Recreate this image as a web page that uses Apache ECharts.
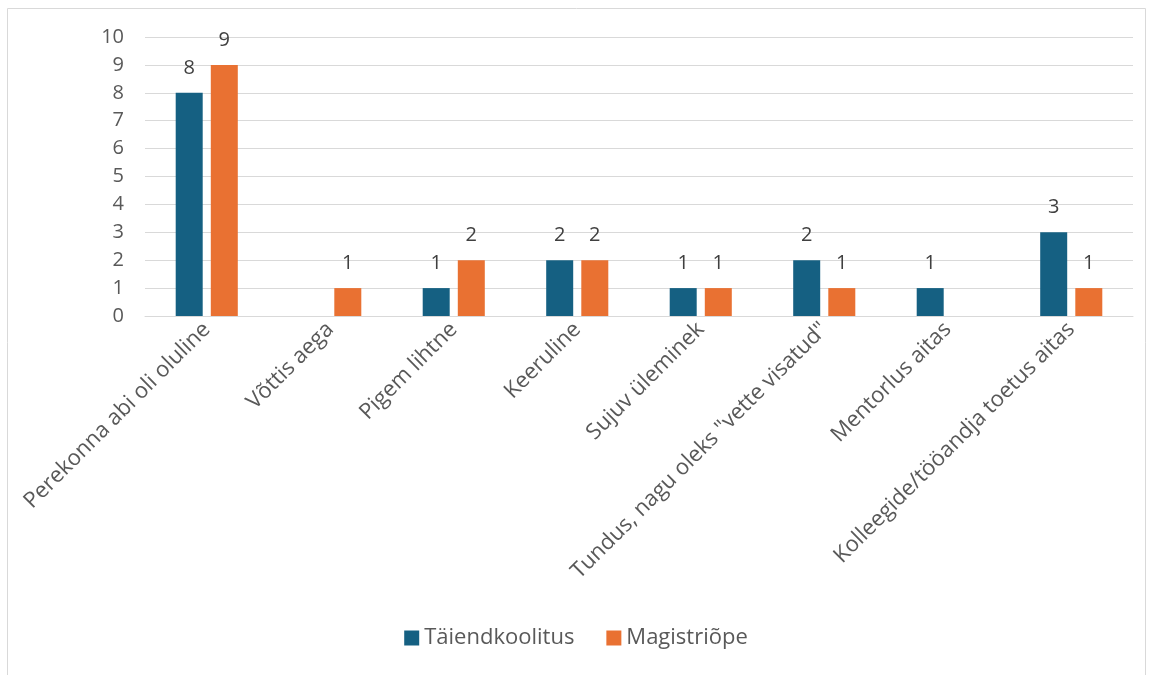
<!DOCTYPE html>
<html><head><meta charset="utf-8">
<script src="https://cdn.jsdelivr.net/npm/echarts@6/dist/echarts.min.js"></script>
<style>html,body{margin:0;padding:0;background:#fff}#c{width:1152px;height:675px}</style>
</head><body><div id="c"></div>
<script>
const categories = ["Perekonna abi oli oluline","Võttis aega","Pigem lihtne","Keeruline","Sujuv üleminek","Tundus, nagu oleks \"vette visatud\"","Mentorlus aitas","Kolleegide/tööandja toetus aitas"];
const seriesNames = ["Täiendkoolitus","Magistriõpe"];
const taiendkoolitus = [8, null, 1, 2, 1, 2, 1, 3];
const magistriope = [9, 1, 2, 2, 1, 1, null, 1];
const yTicks = [0,1,2,3,4,5,6,7,8,9,10];

const chart = echarts.init(document.getElementById('c'));
const font = '"Open Sans", "Noto Sans", sans-serif';
const lbl = {show:true, position:'top', color:'#404040', fontSize:20, fontFamily:font, distance:15};
chart.setOption({
  animation:false,
  graphic:[{type:'rect', shape:{x:7.5,y:8.5,width:1138,height:700}, style:{fill:'none', stroke:'#d9d9d9', lineWidth:1}}],
  grid:{left:145, right:19, top:37, bottom:359, containLabel:false},
  legend:{bottom:21, left:'center', itemWidth:15, itemHeight:15, itemGap:32, icon:'rect',
    textStyle:{color:'#595959', fontSize:22, fontFamily:font}, data:seriesNames},
  xAxis:{type:'category', data:categories,
    axisLine:{lineStyle:{color:'#d9d9d9'}}, axisTick:{show:false},
    axisLabel:{rotate:45, interval:0, color:'#595959', fontSize:22, fontFamily:font, margin:10}},
  yAxis:{type:'value', min:yTicks[0], max:yTicks[yTicks.length-1], interval:1,
    axisLine:{show:false}, axisTick:{show:false},
    axisLabel:{color:'#595959', fontSize:20, fontFamily:font, margin:21},
    splitLine:{lineStyle:{color:'#d9d9d9', width:1}}},
  series:[
    {name:seriesNames[0], type:'bar', data:taiendkoolitus, itemStyle:{color:'#156082'}, barWidth:27, barGap:'30%', label:lbl},
    {name:seriesNames[1], type:'bar', data:magistriope, itemStyle:{color:'#e97132'}, barWidth:27, label:lbl}
  ]
});
</script></body></html>
